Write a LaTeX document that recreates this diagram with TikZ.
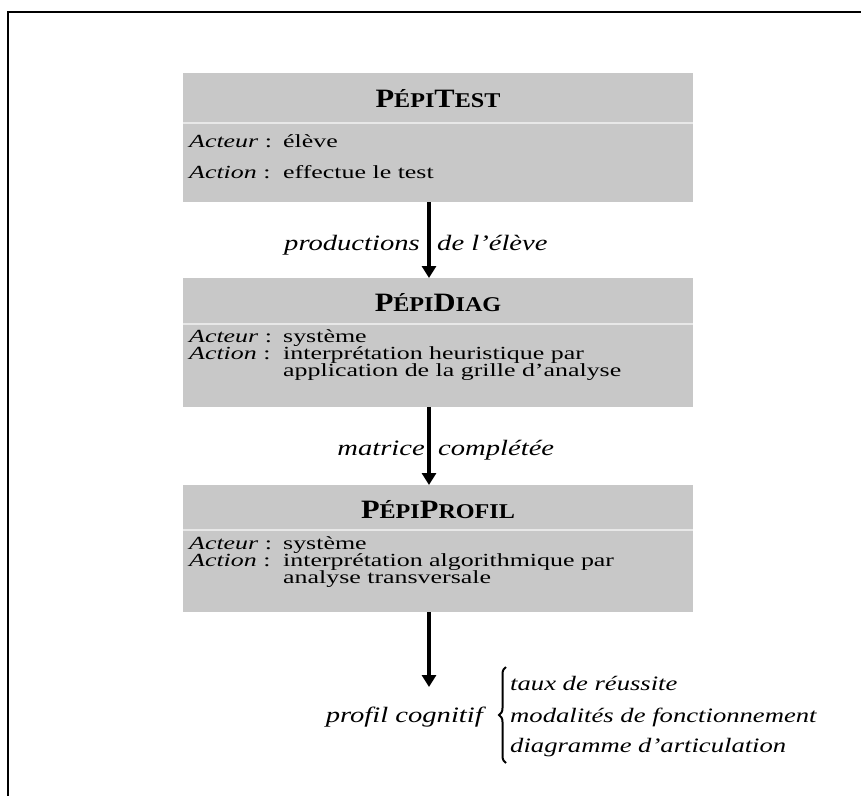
\documentclass[tikz,border=0pt]{standalone}
\usepackage{fontspec}
\setmainfont{Liberation Serif}[FakeStretch=1.3]
\newfontfamily\titlefont{Liberation Serif}[FakeStretch=1.15]
\newfontfamily\bodyfont{Liberation Serif}[FakeStretch=1.4]
\usetikzlibrary{arrows.meta,decorations.pathreplacing}
\definecolor{boxgray}{RGB}{200,200,200}
\definecolor{sepgray}{RGB}{232,232,232}
\tikzset{
 boxnode/.style={fill=boxgray, draw=none, minimum width=510pt, minimum height=#1, inner sep=0pt, outer sep=0pt},
 titletext/.style={anchor=base, inner sep=0pt, font=\titlefont\bfseries\fontsize{26.5}{26.5}\selectfont},
 labeltext/.style={anchor=base west, inner sep=0pt, font=\bodyfont\fontsize{18.5}{18.5}\selectfont},
 flowlabel/.style={inner sep=0pt, font=\itshape\fontsize{22}{22}\selectfont},
 itemtext/.style={anchor=base west, inner sep=0pt, font=\itshape\fontsize{20.5}{20.5}\selectfont},
 flowarrow/.style={line width=4.5pt, -{Triangle[width=14pt,length=12pt]}},
 sepline/.style={draw=sepgray, line width=2.5pt},
 frameline/.style={line width=2.4pt},
 bracestyle/.style={line width=2pt, decorate, decoration={brace, amplitude=7pt}},
}
\newcommand{\SCap}[1]{{\fontsize{21}{21}\selectfont #1}}
\begin{document}
\begin{tikzpicture}[x=1pt,y=-1pt]
\useasboundingbox (0,0) rectangle (861,796);
\draw[frameline] (861,12) -- (8,12) -- (8,796);

% boxes
\node[boxnode=129pt] (b1) at (438,137.5) {};
\node[boxnode=129pt] (b2) at (438,342.5) {};
\node[boxnode=127pt] (b3) at (438,548.5) {};
\draw[sepline] (183,123) -- (693,123);
\draw[sepline] (183,324) -- (693,324);
\draw[sepline] (183,530) -- (693,530);

% titles
\node[titletext] (t1) at (438,107) {P\SCap{ÉPI}T\SCap{EST}};
\node[titletext] (t2) at (438,311) {P\SCap{ÉPI}D\SCap{IAG}};
\node[titletext] (t3) at (438,518) {P\SCap{ÉPI}P\SCap{ROFIL}};

% box 1 body
\node[labeltext] (a1) at (189,147) {\textit{Acteur} :};
\node[labeltext] (v1) at (283,147) {élève};
\node[labeltext] (c1) at (189,178) {\textit{Action} :};
\node[labeltext] (w1) at (283,178) {effectue le test};

% box 2 body
\node[labeltext] (a2) at (189,342) {\textit{Acteur} :};
\node[labeltext] (v2) at (283,342) {système};
\node[labeltext] (c2) at (189,359) {\textit{Action} :};
\node[labeltext] (w2) at (283,359) {interprétation heuristique par};
\node[labeltext] (x2) at (283,376) {application de la grille d’analyse};

% box 3 body
\node[labeltext] (a3) at (189,549) {\textit{Acteur} :};
\node[labeltext] (v3) at (283,549) {système};
\node[labeltext] (c3) at (189,566) {\textit{Action} :};
\node[labeltext] (w3) at (283,566) {interprétation algorithmique par};
\node[labeltext] (x3) at (283,583) {analyse transversale};

% arrows
\draw[flowarrow] ([xshift=-9pt]b1.south) -- ([xshift=-9pt]b2.north);
\draw[flowarrow] ([xshift=-9pt]b2.south) -- ([xshift=-9pt]b3.north);
\coordinate (e3) at (429,687);
\draw[flowarrow] ([xshift=-9pt]b3.south) -- (e3);

% arrow labels
\node[flowlabel, anchor=base east] (p1) at (420,250) {productions};
\node[flowlabel, anchor=base west] (p2) at (437,250) {de l’élève};
\node[flowlabel, anchor=base east] (m1) at (425,455) {matrice};
\node[flowlabel, anchor=base west] (m2) at (438,455) {complétée};

% output
\node[flowlabel, anchor=base east] (pc) at (483,722) {profil cognitif};
\draw[bracestyle] (506,763) -- (506,667);
\node[itemtext] (i1) at (510,690) {taux de réussite};
\node[itemtext] (i2) at (510,722) {modalités de fonctionnement};
\node[itemtext] (i3) at (510,752) {diagramme d’articulation};
\end{tikzpicture}
\end{document}
